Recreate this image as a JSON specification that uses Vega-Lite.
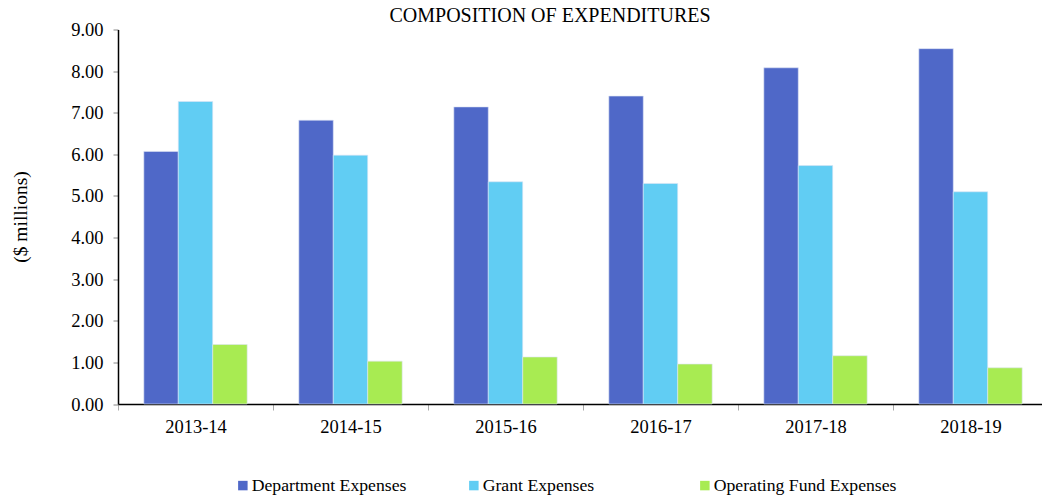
{
  "$schema": "https://vega.github.io/schema/vega-lite/v6.json",
  "autosize": "none",
  "width": 930,
  "height": 374.5,
  "padding": {"left": 118, "top": 29.5, "right": 0, "bottom": 97},
  "background": "white",
  "title": {"text": "COMPOSITION OF EXPENDITURES", "anchor": "middle", "dx": -33, "dy": 11, "font": "Liberation Serif", "fontSize": 20, "fontWeight": "normal", "color": "black", "offset": 6},
  "config": {"view": {"stroke": null}, "font": "Liberation Serif"},
  "data": {"values": [
    {"year": "2013-14", "type": "Department Expenses", "value": 6.07},
    {"year": "2013-14", "type": "Grant Expenses", "value": 7.27},
    {"year": "2013-14", "type": "Operating Fund Expenses", "value": 1.43},
    {"year": "2014-15", "type": "Department Expenses", "value": 6.82},
    {"year": "2014-15", "type": "Grant Expenses", "value": 5.98},
    {"year": "2014-15", "type": "Operating Fund Expenses", "value": 1.03},
    {"year": "2015-16", "type": "Department Expenses", "value": 7.14},
    {"year": "2015-16", "type": "Grant Expenses", "value": 5.34},
    {"year": "2015-16", "type": "Operating Fund Expenses", "value": 1.13},
    {"year": "2016-17", "type": "Department Expenses", "value": 7.40},
    {"year": "2016-17", "type": "Grant Expenses", "value": 5.30},
    {"year": "2016-17", "type": "Operating Fund Expenses", "value": 0.96},
    {"year": "2017-18", "type": "Department Expenses", "value": 8.08},
    {"year": "2017-18", "type": "Grant Expenses", "value": 5.73},
    {"year": "2017-18", "type": "Operating Fund Expenses", "value": 1.16},
    {"year": "2018-19", "type": "Department Expenses", "value": 8.54},
    {"year": "2018-19", "type": "Grant Expenses", "value": 5.10},
    {"year": "2018-19", "type": "Operating Fund Expenses", "value": 0.87}
  ]},
  "mark": {"type": "bar", "stroke": "#dde4f5", "strokeWidth": 0.6},
  "encoding": {
    "x": {"field": "year", "type": "nominal", "sort": null,
      "scale": {"paddingInner": 0, "paddingOuter": 0},
      "axis": {"title": null, "labelAngle": 0, "labelFont": "Liberation Serif", "labelFontSize": 18.5, "labelColor": "black", "labelPadding": 7,
        "domainColor": "black", "domainWidth": 1.5, "tickColor": "#aaaaaa", "tickSize": 6, "tickBand": "extent", "grid": false}},
    "xOffset": {"field": "type", "type": "nominal", "scale": {"paddingInner": 0, "paddingOuter": 0.75}},
    "y": {"field": "value", "type": "quantitative",
      "scale": {"domain": [0, 9]},
      "axis": {"title": "($ millions)", "values": [0,1,2,3,4,5,6,7,8,9], "format": ".2f", "grid": false,
        "labelFont": "Liberation Serif", "labelFontSize": 18.5, "labelColor": "black", "labelPadding": 10,
        "domainColor": "black", "domainWidth": 1.5, "tickColor": "#888888", "tickSize": 5,
        "titleFont": "Liberation Serif", "titleFontSize": 19.5, "titleFontWeight": "normal", "titleColor": "black",
        "titleX": -98, "titleY": 187, "titleAngle": -90, "titleAlign": "center", "titleBaseline": "middle"}},
    "color": {"field": "type", "type": "nominal",
      "scale": {"domain": ["Department Expenses", "Grant Expenses", "Operating Fund Expenses"], "range": ["#4F68C8", "#61CDF3", "#A8EB52"]},
      "legend": {"title": null, "orient": "none", "legendX": 116, "legendY": 447, "direction": "horizontal", "columns": 3, "gridAlign": "all", "columnPadding": 30,
        "symbolType": "square", "symbolSize": 90, "symbolStrokeWidth": 0, "symbolOffset": 0, "labelOffset": 0,
        "labelFont": "Liberation Serif", "labelFontSize": 17.7, "labelColor": "black", "labelLimit": 400}}
  }
}
